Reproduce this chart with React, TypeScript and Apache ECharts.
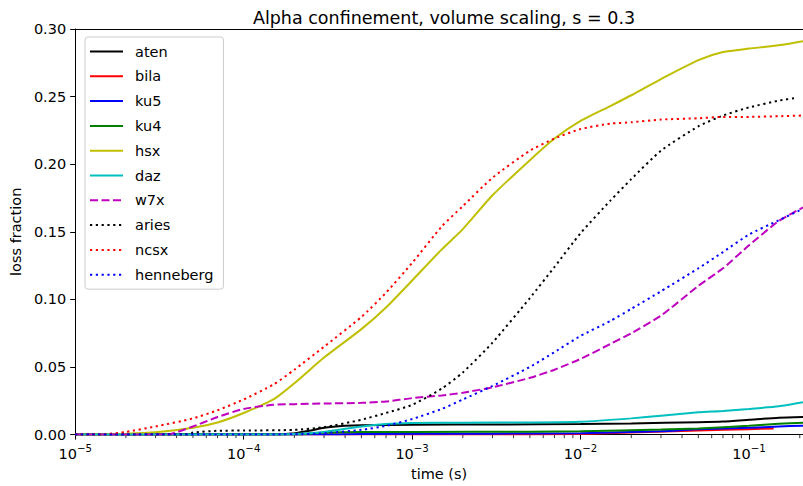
import React, { useEffect, useRef } from "react";
import * as echarts from "echarts";

type Pt = [number, number];

const seriesNames = ["aten", "bila", "ku5", "ku4", "hsx", "daz", "w7x", "aries", "ncsx", "henneberg"];

const aten: Pt[] = [
  [1e-5, 0], [1.5e-4, 0], [2e-4, 0.001], [2.5e-4, 0.003], [3e-4, 0.005], [4e-4, 0.0065], [5e-4, 0.007],
  [1e-3, 0.0073], [3e-3, 0.0075], [1e-2, 0.0078], [2e-2, 0.0083], [5e-2, 0.0092], [7e-2, 0.0097],
  [1e-1, 0.011], [1.5e-1, 0.0125], [0.209, 0.013],
];
const bila: Pt[] = [
  [1e-5, 0], [5e-3, 0], [1e-2, 0.0005], [2e-2, 0.0015], [5e-2, 0.003], [1e-1, 0.004], [1.4e-1, 0.0045],
];
const ku5: Pt[] = [
  [1e-5, 0], [3e-4, 0], [5e-4, 0.0005], [3e-3, 0.0007], [1e-2, 0.001], [3e-2, 0.0025], [5e-2, 0.004],
  [1e-1, 0.005], [1.5e-1, 0.006], [0.209, 0.0066],
];
const ku4: Pt[] = [
  [1e-5, 0], [2e-4, 0], [3e-4, 0.0015], [5e-4, 0.002], [1e-3, 0.002], [5e-3, 0.0022], [1e-2, 0.0025],
  [3e-2, 0.0037], [5e-2, 0.0045], [1e-1, 0.0065], [1.5e-1, 0.008], [0.209, 0.0088],
];
const hsx: Pt[] = [
  [1e-5, 0], [2e-5, 0.0007], [3e-5, 0.0017], [5e-5, 0.005], [7e-5, 0.009], [1e-4, 0.016], [1.5e-4, 0.026],
  [2e-4, 0.038], [3e-4, 0.057], [5e-4, 0.078], [7e-4, 0.094], [1e-3, 0.114], [1.5e-3, 0.137], [2e-3, 0.152],
  [3e-3, 0.177], [5e-3, 0.203], [7e-3, 0.219], [1e-2, 0.232], [1.5e-2, 0.243], [2e-2, 0.251], [3e-2, 0.263],
  [5e-2, 0.277], [7e-2, 0.283], [1e-1, 0.2855], [1.5e-1, 0.288], [0.209, 0.291],
];
const daz: Pt[] = [
  [1e-5, 0], [1.5e-4, 0], [2e-4, 0.0005], [3e-4, 0.002], [5e-4, 0.006], [7e-4, 0.0078], [1e-3, 0.0085],
  [2e-3, 0.0088], [5e-3, 0.009], [1e-2, 0.0095], [2e-2, 0.012], [3e-2, 0.014], [5e-2, 0.0165],
  [7e-2, 0.0175], [1e-1, 0.019], [1.5e-1, 0.021], [0.209, 0.024],
];
const w7x: Pt[] = [
  [1e-5, 0], [3e-5, 0], [3.7e-5, 0.0005], [5e-5, 0.006], [7e-5, 0.013], [1e-4, 0.019], [1.5e-4, 0.022],
  [2e-4, 0.0225], [3e-4, 0.023], [5e-4, 0.0235], [7e-4, 0.0245], [1e-3, 0.027], [1.5e-3, 0.029],
  [2e-3, 0.031], [3e-3, 0.035], [5e-3, 0.042], [7e-3, 0.048], [1e-2, 0.056], [1.5e-2, 0.067],
  [2e-2, 0.075], [3e-2, 0.088], [5e-2, 0.11], [7e-2, 0.123], [1e-1, 0.14], [1.5e-1, 0.158], [0.209, 0.168],
];
const aries: Pt[] = [
  [1e-5, 0], [4.5e-5, 0], [5e-5, 0.0015], [7e-5, 0.0028], [1e-4, 0.003], [2e-4, 0.0035], [3e-4, 0.0055],
  [5e-4, 0.011], [7e-4, 0.016], [1e-3, 0.022], [1.5e-3, 0.034], [2e-3, 0.046], [3e-3, 0.068],
  [5e-3, 0.101], [7e-3, 0.124], [1e-2, 0.149], [1.5e-2, 0.173], [2e-2, 0.189], [3e-2, 0.21],
  [5e-2, 0.228], [7e-2, 0.236], [1e-1, 0.242], [1.5e-1, 0.247], [1.9e-1, 0.249],
];
const ncsx: Pt[] = [
  [1e-5, 0], [1.5e-5, 0.0003], [2e-5, 0.002], [3e-5, 0.006], [5e-5, 0.012], [7e-5, 0.018], [1e-4, 0.026],
  [1.5e-4, 0.037], [2e-4, 0.048], [3e-4, 0.065], [5e-4, 0.087], [7e-4, 0.105], [1e-3, 0.127],
  [1.5e-3, 0.154], [2e-3, 0.169], [3e-3, 0.19], [5e-3, 0.21], [7e-3, 0.219], [1e-2, 0.226],
  [1.5e-2, 0.23], [2e-2, 0.231], [3e-2, 0.233], [5e-2, 0.234], [7e-2, 0.235], [1e-1, 0.235],
  [1.5e-1, 0.2355], [0.209, 0.236],
];
const henneberg: Pt[] = [
  [1e-5, 0], [1e-4, 0], [2e-4, 0.0003], [3e-4, 0.001], [5e-4, 0.0035], [7e-4, 0.0065], [1e-3, 0.0115],
  [1.5e-3, 0.019], [2e-3, 0.026], [3e-3, 0.036], [5e-3, 0.05], [7e-3, 0.061], [1e-2, 0.073],
  [1.5e-2, 0.084], [2e-2, 0.093], [3e-2, 0.106], [5e-2, 0.123], [7e-2, 0.135], [1e-1, 0.148],
  [1.5e-1, 0.1585], [0.209, 0.167],
];

const seriesData: Pt[][] = [aten, bila, ku5, ku4, hsx, daz, w7x, aries, ncsx, henneberg];
const seriesColors = ["#000000", "#ff0000", "#0000ff", "#008000", "#bfbf00", "#00bfbf", "#bf00bf", "#000000", "#ff0000", "#0000ff"];
const seriesStyles = ["solid", "solid", "solid", "solid", "solid", "solid", "dashed", "dotted", "dotted", "dotted"];

const xMin = 1e-5;
const xMax = 0.209;
const minorTickTimes: number[] = [];
for (let e = -5; e <= -1; e++) {
  for (let m = 2; m <= 9; m++) {
    const t = m * Math.pow(10, e);
    if (t <= xMax) minorTickTimes.push(t);
  }
}

const FONT = "DejaVu Sans";
const LW = 2;

function dashFor(style: string): any {
  if (style === "dashed") return [8, 3.5];
  if (style === "dotted") return [2.2, 3.6];
  return "solid";
}

export default function App() {
  const ref = useRef<HTMLDivElement>(null);
  useEffect(() => {
    if (!ref.current) return;
    const chart = echarts.init(ref.current, undefined, { renderer: "svg" });
    const lineSeries = seriesNames.map((name, i) => ({
      name,
      type: "line",
      data: seriesData[i],
      showSymbol: false,
      symbol: "none",
      smooth: 0.2,
      xAxisIndex: 0,
      yAxisIndex: 0,
      lineStyle: { color: seriesColors[i], width: LW, type: dashFor(seriesStyles[i]), cap: "butt" },
      itemStyle: { color: seriesColors[i] },
      z: 2 + i * 0.01,
    }));
    const option: any = {
      animation: false,
      title: {
        text: "Alpha confinement, volume scaling, s = 0.3",
        left: 439,
        textAlign: "center",
        top: 4,
        textStyle: { fontFamily: FONT, fontSize: 17.5, fontWeight: "normal", color: "#000" },
      },
      grid: { left: 75, right: 0, top: 29, bottom: 48, containLabel: false },
      legend: {
        data: seriesNames,
        orient: "vertical",
        left: 85,
        top: 37,
        itemWidth: 33,
        itemHeight: 14,
        itemGap: 9.8,
        padding: [7, 10, 7, 4],
        backgroundColor: "rgba(255,255,255,0.8)",
        borderColor: "#cccccc",
        borderWidth: 1,
        borderRadius: 3,
        itemStyle: { opacity: 0, borderWidth: 0 },
        textStyle: { fontFamily: FONT, fontSize: 14.5, color: "#000", padding: [0, 0, 0, 7] },
      },
      xAxis: [
        {
          type: "log",
          logBase: 10,
          min: xMin,
          max: xMax,
          position: "bottom",
          name: "time (s)",
          nameLocation: "middle",
          nameGap: 31,
          nameTextStyle: { fontFamily: FONT, fontSize: 14.5, color: "#000" },
          axisLine: { show: true, onZero: false, lineStyle: { color: "#000", width: 1 } },
          axisTick: { show: true, inside: false, length: 5, lineStyle: { color: "#000", width: 1 } },
          splitLine: { show: false },
          axisLabel: {
            show: true,
            margin: 9,
            color: "#000",
            fontFamily: FONT,
            fontSize: 14.5,
            showMaxLabel: false,
            formatter: (v: number) => {
              const e = Math.log10(v);
              const r = Math.round(e);
              if (Math.abs(e - r) > 1e-6) return "";
              return "10{sup|" + (r < 0 ? "\u2212" : "") + Math.abs(r) + "}";
            },
            rich: {
              sup: { fontFamily: FONT, fontSize: 10.2, color: "#000", padding: [0, 0, 10, 0] },
            },
          },
        },
        {
          type: "log",
          logBase: 10,
          min: xMin,
          max: xMax,
          position: "top",
          axisLine: { show: true, onZero: false, lineStyle: { color: "#000", width: 1 } },
          axisTick: { show: false },
          axisLabel: { show: false },
          splitLine: { show: false },
        },
      ],
      yAxis: {
        type: "value",
        min: 0,
        max: 0.3,
        interval: 0.05,
        name: "loss fraction",
        nameLocation: "middle",
        nameGap: 50,
        nameRotate: 90,
        nameTextStyle: { fontFamily: FONT, fontSize: 14.5, color: "#000" },
        axisLine: { show: true, lineStyle: { color: "#000", width: 1 } },
        axisTick: { show: true, inside: false, length: 5, lineStyle: { color: "#000", width: 1 } },
        splitLine: { show: false },
        axisLabel: {
          margin: 9,
          color: "#000",
          fontFamily: FONT,
          fontSize: 14.5,
          formatter: (v: number) => v.toFixed(2),
        },
      },
      series: [
        ...lineSeries,
        {
          name: "minorTicks",
          type: "custom",
          xAxisIndex: 0,
          yAxisIndex: 0,
          silent: true,
          clip: false,
          data: minorTickTimes.map((t) => [t, 0]),
          encode: { x: 0, y: 1 },
          renderItem: (params: any, api: any) => {
            const p = api.coord([api.value(0), 0]);
            return {
              type: "line",
              shape: { x1: p[0], y1: p[1] + 0.5, x2: p[0], y2: p[1] + 3.5 },
              style: { stroke: "#000", lineWidth: 0.8 },
            };
          },
        },
      ],
    };
    chart.setOption(option);
    return () => chart.dispose();
  }, []);
  return <div ref={ref} style={{ width: 803, height: 486, position: "absolute", left: 0, top: 0 }} />;
}
